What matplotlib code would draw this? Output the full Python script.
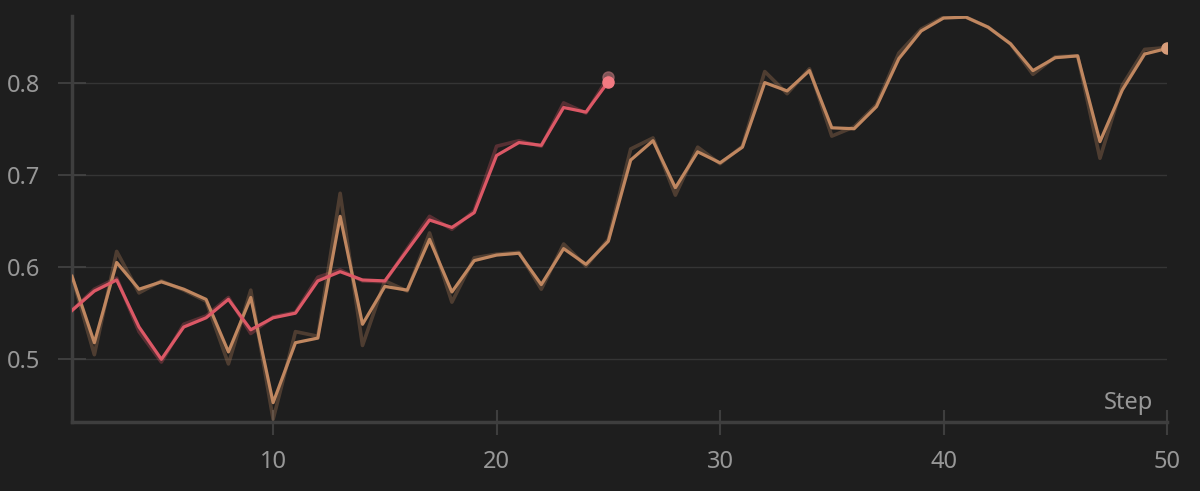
import numpy as np
import matplotlib
matplotlib.use("Agg")
import matplotlib.pyplot as plt

# steps
steps_red = list(range(1, 26))
steps_orange = list(range(1, 51))

# smoothed values (bright lines)
red_smooth = [0.553, 0.574, 0.586, 0.535, 0.500, 0.535, 0.545, 0.565, 0.532, 0.545,
              0.550, 0.585, 0.595, 0.586, 0.585, 0.618, 0.651, 0.643, 0.659, 0.721,
              0.735, 0.732, 0.773, 0.768, 0.801]
orange_smooth = [0.590, 0.518, 0.605, 0.576, 0.584, 0.576, 0.565, 0.508, 0.567, 0.453,
                 0.518, 0.523, 0.655, 0.538, 0.579, 0.575, 0.630, 0.573, 0.607, 0.613,
                 0.615, 0.581, 0.620, 0.603, 0.628, 0.716, 0.737, 0.686, 0.725, 0.713,
                 0.730, 0.800, 0.791, 0.813, 0.751, 0.750, 0.774, 0.826, 0.856, 0.870,
                 0.871, 0.860, 0.842, 0.813, 0.827, 0.829, 0.736, 0.792, 0.831, 0.837]

# raw values (faint lines behind)
red_raw = [0.553, 0.576, 0.588, 0.530, 0.497, 0.538, 0.547, 0.567, 0.528, 0.546,
           0.551, 0.589, 0.597, 0.585, 0.584, 0.620, 0.655, 0.641, 0.661, 0.731,
           0.737, 0.731, 0.778, 0.767, 0.806]
orange_raw = [0.590, 0.505, 0.617, 0.572, 0.585, 0.575, 0.563, 0.495, 0.575, 0.435,
              0.530, 0.525, 0.680, 0.515, 0.585, 0.574, 0.637, 0.562, 0.610, 0.614,
              0.616, 0.576, 0.625, 0.601, 0.630, 0.728, 0.740, 0.678, 0.730, 0.712,
              0.731, 0.812, 0.788, 0.815, 0.742, 0.752, 0.776, 0.832, 0.858, 0.871,
              0.871, 0.860, 0.842, 0.809, 0.828, 0.829, 0.718, 0.797, 0.836, 0.838]

xticks = [10, 20, 30, 40, 50]
yticks = [0.5, 0.6, 0.7, 0.8]

bg = "#1e1e1e"
grid_col = "#353535"
axis_col = "#3e3e3e"
text_col = "#979797"
orange = "#c08760"
red = "#dc5866"

plt.rcParams["font.family"] = ["Noto Sans", "DejaVu Sans"]

fig = plt.figure(figsize=(12, 4.91), dpi=100, facecolor=bg)
ax = fig.add_axes([0.06, 0.1405, 0.9125, 0.8265], facecolor=bg)

for y in yticks:
    ax.axhline(y, color=grid_col, lw=1, zorder=1)

# faint raw lines
ax.plot(steps_orange, orange_raw, color=orange, lw=2.6, alpha=0.3, zorder=2)
ax.plot(steps_red, red_raw, color=red, lw=2.6, alpha=0.3, zorder=3)

# smoothed lines
ax.plot(steps_orange, orange_smooth, color=orange, lw=2.3, zorder=4)
ax.plot(steps_red, red_smooth, color=red, lw=2.3, zorder=5)

# end markers
ax.plot(steps_red[-1], red_raw[-1], "o", color="#a86a6e", ms=8, alpha=0.7, zorder=6)
ax.plot(steps_red[-1], red_smooth[-1], "o", color="#f27a82", ms=8, zorder=7)
ax.plot(steps_orange[-1], orange_smooth[-1], "o", color="#d69c7a", ms=8, zorder=7)

ax.set_xlim(1, 50)
ax.set_ylim(0.432, 0.872)
ax.set_xticks(xticks)
ax.set_yticks(yticks)
ax.set_yticklabels([str(v) for v in yticks])

for side in ["top", "right"]:
    ax.spines[side].set_visible(False)
for side in ["left", "bottom"]:
    ax.spines[side].set_color(axis_col)
    ax.spines[side].set_linewidth(2.5)

ax.tick_params(axis="y", direction="inout", length=20, width=1.2, color="#444444",
               labelcolor=text_col, labelsize=17, pad=13)
ax.tick_params(axis="x", direction="inout", length=18, width=1.5, color=axis_col,
               labelcolor=text_col, labelsize=17, pad=11)

ax.annotate("Step", xy=(1, 0), xycoords="axes fraction", xytext=(-10, 5),
            textcoords="offset points", ha="right", va="bottom",
            color=text_col, fontsize=17)

fig.savefig("out.png", dpi=100, facecolor=bg)
